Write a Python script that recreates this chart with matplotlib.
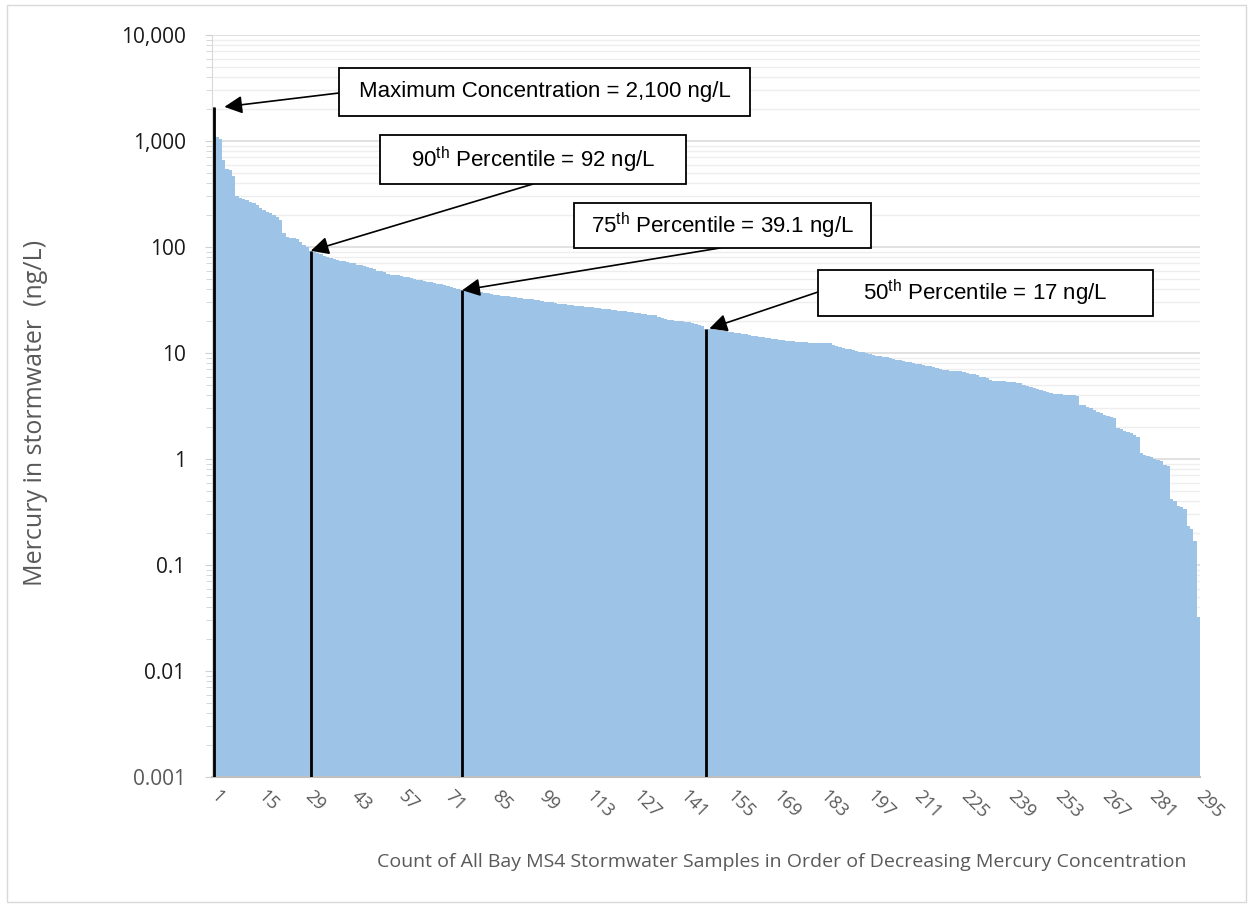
import matplotlib.pyplot as plt
from matplotlib import font_manager
from matplotlib.patches import Rectangle
from matplotlib.ticker import FixedLocator, LogLocator, NullFormatter

# mercury results, sorted high to low (ng/L)
hg_top = [2100, 1100, 1050, 660, 540, 530, 470, 300, 290, 285, 275, 265, 260, 250, 235,
          225, 215, 210, 200, 190, 180, 135, 125, 122, 121, 118, 112, 105, 100, 92]
hg_upper = [90, 87, 85, 83, 80, 78, 77, 76, 74, 73, 72, 71, 70, 68, 67, 66, 65, 63, 62, 60,
            59, 58, 56, 55, 54, 54, 53, 52, 52, 51, 50, 49, 49, 48, 47, 47, 46, 45, 45, 44,
            43, 42, 41, 40, 39.1]
hg_middle = [38.8, 38.5, 38.2, 38.0, 37.8, 37.5, 37.0, 36.5, 36.0, 35.5, 35.0, 34.8, 34.5,
             34.2, 34.0, 33.6, 33.2, 33.0, 32.6, 32.3, 32.0, 31.6, 31.3, 31.0, 30.6, 30.3,
             30.0, 29.6, 29.3, 29.0, 28.8, 28.5, 28.3, 28.0, 27.8, 27.6, 27.4, 27.2, 27.0,
             26.7, 26.4, 26.2, 26.0, 25.8, 25.5, 25.3, 25.1, 25.0, 24.8, 24.6, 24.4, 24.1,
             23.8, 23.5, 23.2, 23.0, 22.8, 22.6, 22.0, 21.5, 21.0, 20.6, 20.4, 20.2, 20.0,
             19.9, 19.7, 19.6, 19.2, 18.7, 18.2, 17.8, 17.0]
hg_lower = [16.9, 16.8, 16.6, 16.4, 16.2, 16.0, 15.9,
            15.8, 15.6, 15.4, 15.2, 15.0, 14.8, 14.6, 14.4, 14.2, 14.1,
            14.0, 13.8, 13.6, 13.5, 13.3, 13.2, 13.1, 13.0, 12.9, 12.8, 12.7,
            12.6, 12.6, 12.5, 12.5, 12.5, 12.4, 12.4, 12.4, 12.3, 12.0, 11.7, 11.4,
            11.2, 11.0, 10.8, 10.6, 10.4, 10.3, 10.2,
            10.0, 9.8, 9.6, 9.4, 9.3, 9.2, 9.1,
            8.9, 8.8, 8.6, 8.5, 8.4, 8.3, 8.2,
            8.0, 7.9, 7.8, 7.7, 7.6, 7.5, 7.4, 7.2, 7.0,
            6.9, 6.9, 6.8, 6.8, 6.7, 6.7, 6.6,
            6.5, 6.4, 6.3, 6.2, 6.0, 5.9, 5.8,
            5.6, 5.5, 5.5, 5.4, 5.4, 5.3, 5.3, 5.3, 5.2, 5.2,
            5.0, 4.9, 4.8, 4.7, 4.6, 4.5, 4.4, 4.3, 4.2,
            4.1, 4.1, 4.1, 4.0, 4.0, 4.0, 4.0, 3.9,
            3.2, 3.2, 3.1, 3.0,
            2.9, 2.8, 2.7, 2.6,
            2.55, 2.5, 2.45,
            1.95, 1.9, 1.85, 1.8, 1.75,
            1.67, 1.6,
            1.15, 1.1, 1.06, 1.05,
            1.0, 0.97, 0.95,
            0.88, 0.85,
            0.42, 0.40,
            0.36, 0.35, 0.34,
            0.235, 0.22,
            0.17,
            0.032]
hg = hg_top + hg_upper + hg_middle + hg_lower
samples = list(range(1, len(hg) + 1))

# highlighted statistics
stat_samples = [1, 30, 75, 148]
stat_labels = ['Maximum Concentration = 2,100 ng/L',
               '90$^{\\mathrm{th}}$ Percentile = 92 ng/L',
               '75$^{\\mathrm{th}}$ Percentile = 39.1 ng/L',
               '50$^{\\mathrm{th}}$ Percentile = 17 ng/L']

x_ticks = list(range(1, 296, 14))
y_ticks = [0.001, 0.01, 0.1, 1, 10, 100, 1000, 10000]
y_tick_labels = ['0.001', '0.01', '0.1', '1', '10', '100', '1,000', '10,000']

W, H = 1253, 907
installed = {f.name for f in font_manager.fontManager.ttflist}
if 'Liberation Sans Narrow' in installed:
    BOX_FONT, BOX_SIZE = 'Liberation Sans Narrow', 19
else:
    BOX_FONT, BOX_SIZE = 'Liberation Sans', 16
plt.rcParams['mathtext.fontset'] = 'custom'
plt.rcParams['mathtext.rm'] = BOX_FONT
plt.rcParams['font.family'] = ['Open Sans', 'DejaVu Sans']

fig = plt.figure(figsize=(W / 100, H / 100), dpi=100)
ax = fig.add_axes([212 / W, 1 - 777 / H, (1200 - 212) / W, (777 - 35) / H])


def fx(px):
    return px / W


def fy(py):
    return 1 - py / H


bar_color = '#9dc3e6'
ax.bar(samples, hg, width=1.0, color=bar_color, linewidth=0, antialiased=False, zorder=2)
ax.set_yscale('log')
ax.set_xlim(0.5, len(hg) + 0.5)
ax.set_ylim(0.001, 10000)

# black markers at the statistic samples
stat_values = [hg[s - 1] for s in stat_samples]
ax.vlines(stat_samples, 0.001, stat_values, color='black', linewidth=2, zorder=3)

ax.set_axisbelow(True)
ax.yaxis.set_major_locator(FixedLocator(y_ticks))
ax.yaxis.set_minor_locator(LogLocator(base=10, subs=range(2, 10), numticks=20))
ax.yaxis.set_minor_formatter(NullFormatter())
ax.set_yticks(y_ticks)
ax.set_yticklabels(y_tick_labels, fontsize=15, color='#1a1a1a')
ax.get_yticklabels()[0].set_color('#595959')
ax.grid(True, which='major', axis='y', color='#d9d9d9', linewidth=1.1)
ax.grid(True, which='minor', axis='y', color='#eeeeee', linewidth=1.0)
ax.tick_params(axis='y', which='both', direction='out', color='#d0d0d0', pad=14)
ax.tick_params(axis='y', which='major', length=5)
ax.tick_params(axis='y', which='minor', length=4)

ax.set_xticks(x_ticks)
ax.set_xticklabels([str(t) for t in x_ticks], rotation=-45, ha='left', va='center',
                   rotation_mode='anchor', fontsize=13, color='#595959')
ax.tick_params(axis='x', length=0, pad=12)

for side in ['top', 'right']:
    ax.spines[side].set_visible(False)
ax.spines['left'].set_color('#d9d9d9')
ax.spines['bottom'].set_color('#bfbfbf')
ax.spines['bottom'].set_linewidth(1.5)

fig.text(fx(36), fy(413), 'Mercury in stormwater  (ng/L)', rotation=90, ha='center', va='center',
         fontsize=18, color='#595959')
fig.text(fx(782), fy(862), 'Count of All Bay MS4 Stormwater Samples in Order of Decreasing '
         'Mercury Concentration', ha='center', va='center', fontsize=14, color='#595959')

# label boxes (left, top, right, bottom in pixels) and arrow starts
boxes = [(339, 68, 750, 116), (380, 135, 686, 184), (574, 203, 871, 248), (818, 270, 1153, 316)]
arrow_starts = [(339, 93), (533, 184), (720, 248), (818, 292)]
tip_offsets = [3.2, 0.0, 0.2, 1.0]

for label, (l, t, r, b) in zip(stat_labels, boxes):
    fig.add_artist(Rectangle((fx(l), fy(b)), (r - l) / W, (b - t) / H, transform=fig.transFigure,
                             facecolor='white', edgecolor='black', linewidth=1.3, zorder=5))
    fig.text(fx((l + r) / 2), fy((t + b) / 2), label, ha='center', va='center',
             family=BOX_FONT, fontsize=BOX_SIZE, color='black', zorder=6)

for s, v, off, (sx, sy) in zip(stat_samples, stat_values, tip_offsets, arrow_starts):
    ax.annotate('', xy=(s + off, v), xycoords='data', xytext=(fx(sx), fy(sy)),
                textcoords='figure fraction', annotation_clip=False,
                arrowprops=dict(arrowstyle='-|>', color='black', lw=1.2, mutation_scale=27,
                                shrinkA=0, shrinkB=0), zorder=6)

fig.add_artist(Rectangle((fx(7), fy(902)), fx(1246) - fx(7), fy(5) - fy(902),
                         transform=fig.transFigure, facecolor='none', edgecolor='#d9d9d9',
                         linewidth=1.0))

fig.savefig('out.png', dpi=100)
